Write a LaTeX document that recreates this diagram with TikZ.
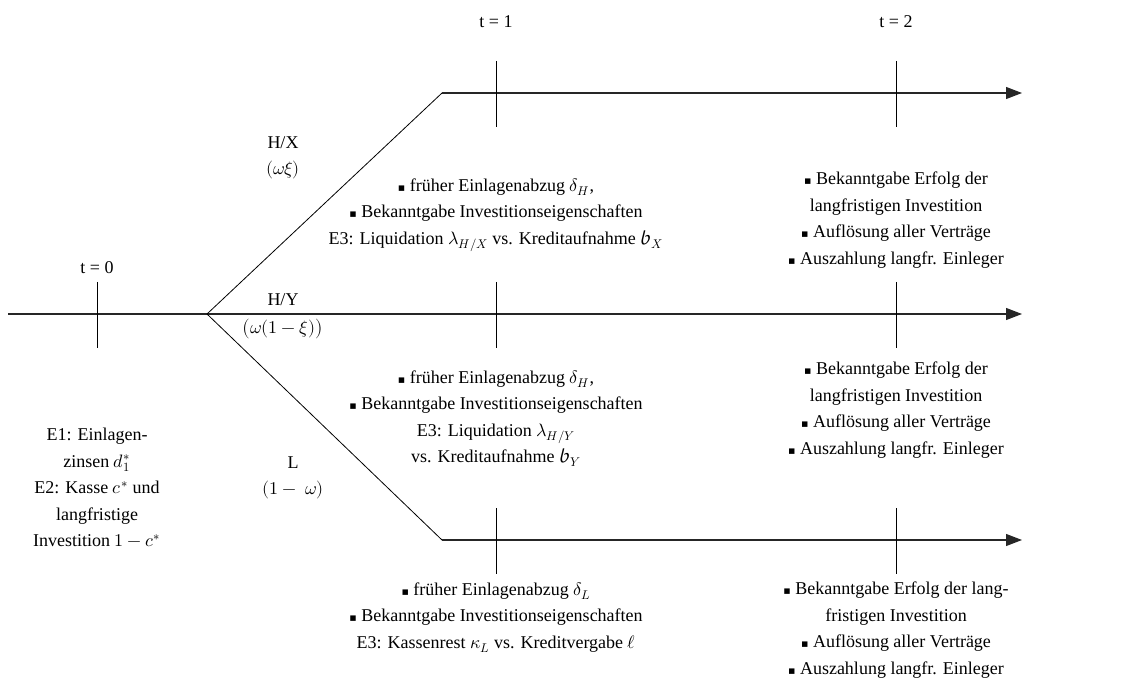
\documentclass[tikz,border=0pt]{standalone}
\usepackage{fontspec}
\usepackage{unicode-math}
\setmainfont{Liberation Serif}
\setmathfont{Latin Modern Math}
\setmathfont[range=\mathscr]{DejaVu Math TeX Gyre}
\newfontfamily\symfont{DejaVu Sans}
\usetikzlibrary{arrows.meta}
\newcommand{\blt}{{\symfont\fontsize{11}{11}\selectfont\char"25AA}\ }
\tikzset{
  every node/.style={font=\fontsize{18}{26.5}\selectfont, align=center, inner sep=0pt},
  timeline/.style={line width=1.1pt, draw=black!85, -{Triangle[length=16pt,width=12pt]}},
  branch/.style={line width=0.8pt},
  tickmark/.style={line width=1pt},
}
\begin{document}
\begin{tikzpicture}[x=1pt,y=-1pt]
  \useasboundingbox (0,0) rectangle (1141,695);
  % branch points
  \coordinate (start) at (8,314);
  \coordinate (fork) at (207,314);
  \coordinate (hxknee) at (442,93);
  \coordinate (lknee) at (442,540);
  \coordinate (hxend) at (1022,93);
  \coordinate (hyend) at (1022,314);
  \coordinate (lend) at (1022,540);
  \draw[timeline] (start) -- (hyend);
  \draw[branch] (fork) -- (hxknee);
  \draw[branch] (fork) -- (lknee);
  \draw[timeline] (hxknee) -- (hxend);
  \draw[timeline] (lknee) -- (lend);
  % ticks
  \foreach \tx/\ty in {97/314, 496/93, 896/93, 496/314, 896/314, 496/540, 896/540}
    \draw[tickmark] (\tx,\ty-32) -- (\tx,\ty+34);
  % time labels
  \node (t0) at (97,268) {t = 0};
  \node (t1) at (496,22) {t = 1};
  \node (t2) at (896,22) {t = 2};
  % probabilities
  \node (hx) at (283,158) {H/X\\$(\omega\xi)$};
  \node (hy) at (283,300) {H/Y};
  \node (hyp) at (283,329) {$\bigl(\omega(1-\xi)\bigr)$};
  \node (l) at (293,478) {L\\$(1-\ \omega)$};
  % events
  \node[anchor=north] (e0) at (97,428) {E1: Einlagen-\\zinsen $d_1^*$\\E2: Kasse $c^*$ und\\langfristige\\Investition $1-c^*$};
  \node[anchor=north] (hx1) at (496,178) {\blt früher Einlagenabzug $\delta_H$,\\\blt Bekanntgabe Investitionseigenschaften\\E3: Liquidation $\lambda_{H/X}$ vs. Kreditaufnahme $\mathscr{b}_X$};
  \node[anchor=north] (hx2) at (896,172) {\blt Bekanntgabe Erfolg der\\langfristigen Investition\\\blt Auflösung aller Verträge\\\blt Auszahlung langfr. Einleger};
  \node[anchor=north] (hy1) at (496,370) {\blt früher Einlagenabzug $\delta_H$,\\\blt Bekanntgabe Investitionseigenschaften\\E3: Liquidation $\lambda_{H/Y}$\\vs. Kreditaufnahme $\mathscr{b}_Y$};
  \node[anchor=north] (hy2) at (896,362) {\blt Bekanntgabe Erfolg der\\langfristigen Investition\\\blt Auflösung aller Verträge\\\blt Auszahlung langfr. Einleger};
  \node[anchor=north] (l1) at (496,582) {\blt früher Einlagenabzug $\delta_L$\\\blt Bekanntgabe Investitionseigenschaften\\E3: Kassenrest $\kappa_L$ vs. Kreditvergabe $\ell$};
  \node[anchor=north] (l2) at (896,582) {\blt Bekanntgabe Erfolg der lang-\\fristigen Investition\\\blt Auflösung aller Verträge\\\blt Auszahlung langfr. Einleger};
\end{tikzpicture}
\end{document}
